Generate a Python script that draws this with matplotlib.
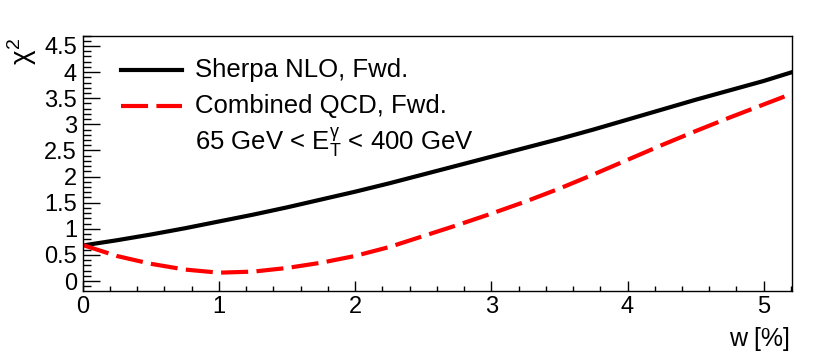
import matplotlib
matplotlib.use("Agg")
import matplotlib.pyplot as plt
from matplotlib.ticker import MultipleLocator

plt.rcParams['font.family'] = ['Liberation Sans', 'DejaVu Sans']
plt.rcParams['mathtext.fontset'] = 'custom'
plt.rcParams['mathtext.rm'] = 'Liberation Sans'
plt.rcParams['mathtext.it'] = 'Liberation Sans'

# chi2 scan vs w [%]
w = [0, 0.25, 0.5, 0.75, 1, 1.25, 1.5, 1.75, 2, 2.25, 2.5, 2.75, 3,
     3.25, 3.5, 3.75, 4, 4.25, 4.5, 4.75, 5, 5.21]
chi2_sherpa = [0.68, 0.78, 0.89, 1.01, 1.14, 1.27, 1.41, 1.56, 1.71, 1.87, 2.04,
               2.21, 2.38, 2.55, 2.72, 2.90, 3.09, 3.28, 3.47, 3.65, 3.83, 4.00]
chi2_qcd = [0.69, 0.48, 0.33, 0.22, 0.16, 0.18, 0.25, 0.35, 0.48, 0.65, 0.86,
            1.07, 1.29, 1.52, 1.77, 2.04, 2.32, 2.60, 2.87, 3.13, 3.38, 3.59]

labels = ['Sherpa NLO, Fwd.', 'Combined QCD, Fwd.',
          r'65 GeV < $\mathrm{E}_{\mathrm{T}}^{\gamma}$ < 400 GeV']

fig = plt.figure(figsize=(8.3, 3.53), dpi=100)
ax = fig.add_axes([0.0996, 0.1765, 0.855, 0.7229])

ax.plot(w, chi2_sherpa, color='black', lw=3)
ax.plot(w, chi2_qcd, color='red', lw=3, dashes=(6.5, 2))

ax.set_xlim(0, 5.21)
ax.set_ylim(-0.185, 4.70)
ax.xaxis.set_major_locator(MultipleLocator(1))
ax.xaxis.set_minor_locator(MultipleLocator(0.2))
ax.yaxis.set_major_locator(MultipleLocator(0.5))
ax.yaxis.set_minor_locator(MultipleLocator(0.1))
ax.yaxis.set_major_formatter(plt.FuncFormatter(lambda v, p: f'{v:g}'))
ax.tick_params(which='both', direction='in', labelsize=17, width=1, pad=4)
ax.tick_params(axis='x', which='major', length=7)
ax.tick_params(axis='x', which='minor', length=3.5)
ax.tick_params(axis='y', which='major', length=12)
ax.tick_params(axis='y', which='minor', length=6)
for s in ax.spines.values():
    s.set_linewidth(1)

fig.text(0.952, 0.02, 'w [%]', ha='right', va='baseline', fontsize=18)
fig.text(0.006, 0.895, r'$\chi^{2}$', rotation=90, ha='left', va='top', fontsize=20)

# legend drawn by hand (ROOT TLegend style)
ax.plot([0.0536, 0.1395], [0.865, 0.865], transform=ax.transAxes,
        color='black', lw=3)
ax.plot([0.0536, 0.1395], [0.724, 0.724], transform=ax.transAxes,
        color='red', lw=3, dashes=(6.5, 2))
for ypos, lab in zip([0.8386, 0.695, 0.551], labels):
    ax.text(0.158, ypos, lab, transform=ax.transAxes, fontsize=18.5,
            ha='left', va='baseline')

fig.savefig('out.png', dpi=100)
